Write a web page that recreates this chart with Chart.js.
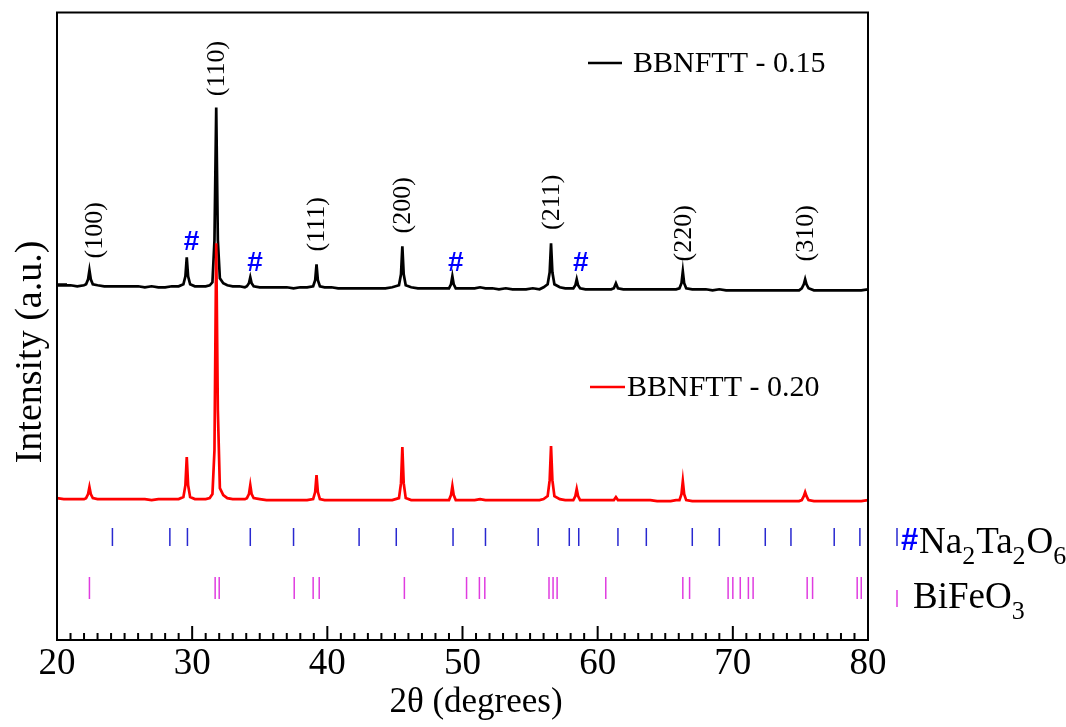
<!DOCTYPE html>
<html>
<head>
<meta charset="utf-8">
<script src="https://cdn.jsdelivr.net/npm/chart.js@4.4.1/dist/chart.umd.min.js"></script>
<style>
html,body{margin:0;padding:0;background:#fff;}
canvas{display:block;}
</style>
</head>
<body>
<canvas id="c" width="1066" height="727"></canvas>
<script>
// ---- data ----
const twoTheta = [
20.0,20.5,21.0,21.5,22.0,22.15,22.3,22.4,22.5,22.65,23.0,23.5,24.0,24.5,25.0,25.5,26.0,26.5,27.0,27.5,
28.0,28.5,29.0,29.35,29.5,29.6,29.7,29.85,30.2,30.6,31.0,31.3,31.5,31.65,31.78,31.9,32.05,32.3,32.6,33.0,
33.5,33.9,34.05,34.2,34.3,34.4,34.55,35.0,35.5,36.0,36.5,37.0,37.5,38.0,38.5,38.95,39.1,39.2,39.3,39.45,
39.8,40.3,40.8,41.3,41.8,42.3,42.8,43.3,43.8,44.3,44.8,45.3,45.45,45.55,45.65,45.8,46.2,46.7,47.2,47.7,
48.2,48.6,49.0,49.15,49.25,49.35,49.5,49.9,50.4,50.9,51.3,51.7,52.2,52.7,53.2,53.7,54.2,54.7,55.2,55.7,
56.0,56.3,56.45,56.55,56.65,56.8,57.2,57.6,58.0,58.2,58.35,58.45,58.55,58.7,59.1,59.6,60.1,60.6,61.0,61.2,
61.35,61.5,61.9,62.4,62.9,63.4,63.9,64.4,64.9,65.4,65.8,66.05,66.2,66.3,66.4,66.55,67.0,67.5,68.0,68.5,
69.0,69.5,70.0,70.5,71.0,71.5,72.0,72.5,73.0,73.5,74.0,74.5,74.9,75.1,75.25,75.35,75.45,75.6,76.0,76.5,
77.0,77.5,78.0,78.5,79.0,79.5,80.0];

const intensity015 = [
355,355,355,354,355,356,361,370,361,356,355,354,354,354,354,354,354,353,354,353,
353,354,354,356,364,383,364,356,354,354,354,355,358,400,533,400,362,357,355,354,
354,353,354,357,363,357,354,353,353,353,353,353,352,353,353,354,360,376,360,354,
353,353,352,352,352,352,352,352,352,352,353,355,366,394,366,355,353,352,352,352,
352,352,352,356,364,356,352,352,352,352,353,352,352,351,352,351,351,351,352,351,
353,356,368,397,368,356,353,352,352,352,355,361,355,352,351,351,351,351,351,352,
357,352,351,351,351,351,351,351,351,351,351,352,357,369,357,352,351,351,351,350,
351,350,350,350,350,350,350,350,350,350,350,350,350,352,356,361,356,352,350,350,
350,350,350,350,350,350,351];

const intensity020 = [
142,141,141,141,141,142,146,153,146,142,141,141,141,141,141,141,141,141,140,141,
141,141,141,143,155,183,155,143,141,141,141,142,146,190,397,230,152,145,142,141,
141,141,142,146,155,146,142,141,140,140,140,140,140,140,140,141,148,165,148,141,
140,140,140,140,140,140,140,140,140,140,140,142,157,193,157,142,140,140,140,140,
140,140,140,145,154,145,140,140,140,140,141,140,140,140,140,140,140,140,140,140,
141,144,160,194,160,144,141,140,140,140,144,151,144,140,140,140,140,140,140,140,
143,140,140,140,140,140,140,139,139,139,140,140,146,159,146,140,139,139,139,139,
139,139,139,139,139,139,139,139,139,139,139,139,139,140,144,148,144,140,139,139,
139,139,139,139,139,139,140];

const na2ta2o6Lines = [24.1,28.35,29.65,34.3,37.5,42.35,45.1,49.3,51.7,55.6,57.9,58.6,61.5,63.6,67.0,69.0,72.4,74.3,77.5,79.4];
const bifeo3Lines = [22.4,31.7,32.0,37.55,38.95,39.4,45.7,50.3,51.25,51.65,56.4,56.7,57.0,60.6,66.3,66.8,69.65,70.0,70.55,71.15,71.5,75.5,75.9,79.2,79.5];

const seriesNames = ['BBNFTT - 0.15','BBNFTT - 0.20'];
const hklLabels = ['(100)','(110)','(111)','(200)','(211)','(220)','(310)'];
const hklTheta = [22.75,31.75,39.2,45.55,56.55,66.3,75.35];
const hklLabelY = [410,572,416,435,438,407,407];
const hashTheta = [29.95,34.65,49.5,58.75];
const hashLabelY = [398,377,377,377];
const xTickValues = [20,30,40,50,60,70,80];
const xTitle = '2θ (degrees)';
const yTitle = 'Intensity (a.u.)';

// ---- build datasets ----
const toXY = ys => twoTheta.map((t,i)=>({x:t,y:ys[i]}));
const NA_LEVEL = 103, BFO_LEVEL = 52;

const overlay = {
  id:'overlay',
  afterDraw(chart){
    const {ctx, chartArea:{left,right,top,bottom}, scales:{x,y}} = chart;
    ctx.save();
    // frame
    ctx.strokeStyle='#000'; ctx.lineWidth=2;
    ctx.strokeRect(left, top, right-left, bottom-top);
    // inward ticks
    ctx.beginPath();
    for(let v=20; v<=80; v++){
      const px = x.getPixelForValue(v);
      const len = (v%10===0)?14:7;
      ctx.moveTo(px,bottom); ctx.lineTo(px,bottom-len);
    }
    const yt = y.getPixelForValue(356);
    ctx.moveTo(left,yt); ctx.lineTo(left+10,yt);
    ctx.stroke();
    // axis titles
    ctx.fillStyle='#000';
    ctx.textAlign='center'; ctx.textBaseline='middle';
    ctx.font='35px "Liberation Serif"';
    ctx.fillText(xTitle, 476, 703);
    ctx.save(); ctx.translate(31, 352); ctx.rotate(-Math.PI/2);
    ctx.font='38px "Liberation Serif"';
    ctx.fillText(yTitle, 0, 0); ctx.restore();
    // hkl labels
    ctx.font='26px "Liberation Serif"';
    hklLabels.forEach((s,i)=>{
      const px = x.getPixelForValue(hklTheta[i]);
      const py = y.getPixelForValue(hklLabelY[i]);
      ctx.save(); ctx.translate(px,py); ctx.rotate(-Math.PI/2);
      ctx.fillText(s,0,1); ctx.restore();
    });
    // # labels
    ctx.fillStyle='#0000ff';
    ctx.font='bold 28px "Liberation Sans"';
    hashTheta.forEach((t,i)=>{
      ctx.fillText('#', x.getPixelForValue(t), y.getPixelForValue(hashLabelY[i]));
    });
    // series legends
    const ds = chart.data.datasets;
    const leg = [[588,622,63,633],[590,625,387,627]];
    ctx.textAlign='left';
    ctx.font='30px "Liberation Serif"';
    [0,1].forEach(k=>{
      const [x0,x1,yy,tx] = leg[k];
      ctx.strokeStyle = ds[k].borderColor; ctx.lineWidth=2.5;
      ctx.beginPath(); ctx.moveTo(x0,yy); ctx.lineTo(x1,yy); ctx.stroke();
      ctx.fillStyle='#000'; ctx.fillText(ds[k].label, tx, yy+1);
    });
    // phase legends
    ctx.lineWidth=1.5;
    ctx.strokeStyle=ds[2].borderColor;
    ctx.beginPath(); ctx.moveTo(897,528); ctx.lineTo(897,546); ctx.stroke();
    ctx.strokeStyle=ds[3].borderColor;
    ctx.beginPath(); ctx.moveTo(897,590); ctx.lineTo(897,607); ctx.stroke();
    ctx.textBaseline='alphabetic';
    ctx.fillStyle='#0000ff'; ctx.font='bold 31px "Liberation Sans"';
    ctx.fillText('#',901,550);
    const chem = (parts, x0, base)=>{
      let cx = x0;
      parts.forEach(([s,sub])=>{
        ctx.font = sub ? '26px "Liberation Serif"' : '37px "Liberation Serif"';
        ctx.fillText(s, cx, base + (sub?11:0));
        cx += ctx.measureText(s).width + (sub?1:0);
      });
    };
    ctx.fillStyle='#000';
    chem([['Na',0],['2',1],['Ta',0],['2',1],['O',0],['6',1]], 919, 553);
    chem([['BiFeO',0],['3',1]], 913, 608);
    ctx.restore();
  }
};

new Chart(document.getElementById('c'), {
  type:'line',
  data:{
    datasets:[
      {label:seriesNames[0], data:toXY(intensity015), borderColor:'#000000', borderWidth:2.7, pointRadius:0, tension:0, order:1},
      {label:seriesNames[1], data:toXY(intensity020), borderColor:'#ff0000', borderWidth:2.7, pointRadius:0, tension:0, order:0},
      {label:'Na2Ta2O6', data:na2ta2o6Lines.map(t=>({x:t,y:NA_LEVEL})), showLine:false, pointStyle:'line', rotation:90, radius:9, hoverRadius:9, borderColor:'#2828d0', borderWidth:1.5, order:2},
      {label:'BiFeO3', data:bifeo3Lines.map(t=>({x:t,y:BFO_LEVEL})), showLine:false, pointStyle:'line', rotation:90, radius:11, hoverRadius:11, borderColor:'#e03ce0', borderWidth:1.5, order:2}
    ]
  },
  options:{
    responsive:false,
    animation:false,
    events:[],
    layout:{padding:{top:12,right:198,left:0,bottom:0}},
    plugins:{legend:{display:false}, tooltip:{enabled:false}},
    scales:{
      x:{
        type:'linear', min:20, max:80,
        afterBuildTicks: s => { s.ticks = xTickValues.map(v=>({value:v})); },
        afterFit: s => { s.height = 87; },
        grid:{display:false, drawTicks:false},
        border:{display:false},
        ticks:{autoSkip:false, maxRotation:0, padding:2, color:'#000', font:{family:'Liberation Serif', size:37}},
        title:{display:false}
      },
      y:{
        type:'linear', min:0, max:628,
        afterFit: s => { s.width = 57; },
        grid:{display:false, drawTicks:false},
        border:{display:false},
        ticks:{display:false},
        title:{display:false}
      }
    }
  },
  plugins:[overlay]
});
</script>
</body>
</html>
